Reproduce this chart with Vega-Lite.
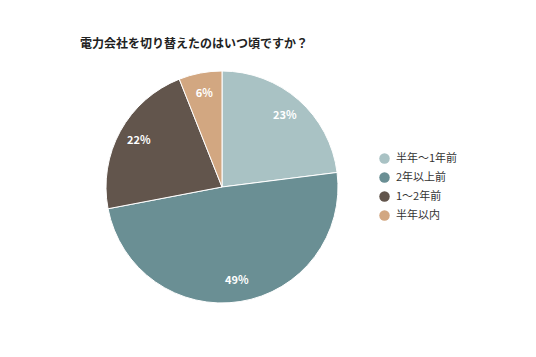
{
  "$schema": "https://vega.github.io/schema/vega-lite/v6.json",
  "autosize": {"type": "none"},
  "width": 232,
  "height": 232,
  "padding": {"left": 106, "top": 71, "right": 198, "bottom": 54},
  "background": "white",
  "title": {
    "text": "電力会社を切り替えたのはいつ頃ですか？",
    "anchor": "start",
    "frame": "group",
    "dx": -26,
    "offset": 18,
    "font": "Noto Sans CJK JP",
    "fontSize": 12,
    "fontWeight": "bold",
    "color": "#222222"
  },
  "config": {"view": {"stroke": null}},
  "data": {
    "values": [
      {"category": "半年〜1年前", "value": 23, "rank": 1},
      {"category": "2年以上前", "value": 49, "rank": 2},
      {"category": "1〜2年前", "value": 22, "rank": 3},
      {"category": "半年以内", "value": 6, "rank": 4}
    ]
  },
  "transform": [{"calculate": "datum.value + '%'", "as": "label"}],
  "encoding": {
    "theta": {"field": "value", "type": "quantitative", "stack": true},
    "order": {"field": "rank", "type": "quantitative"},
    "color": {
      "field": "category",
      "type": "nominal",
      "scale": {
        "domain": ["半年〜1年前", "2年以上前", "1〜2年前", "半年以内"],
        "range": ["#a9c2c4", "#6a8f94", "#62554c", "#d2a781"]
      },
      "legend": {
        "title": null,
        "orient": "none",
        "legendX": 273,
        "legendY": 82,
        "symbolType": "circle",
        "symbolSize": 110,
        "symbolStrokeWidth": 0,
        "labelFont": "Noto Sans CJK JP",
        "labelFontSize": 11,
        "labelColor": "#333333",
        "rowPadding": 7,
        "labelOffset": 6
      }
    }
  },
  "layer": [
    {"mark": {"type": "arc", "outerRadius": 116, "stroke": "white", "strokeWidth": 1}},
    {
      "mark": {"type": "text", "radius": 95, "font": "Noto Sans CJK JP", "fontSize": 11, "fontWeight": "bold", "fill": "white"},
      "encoding": {"text": {"field": "label", "type": "nominal"}, "color": {"value": "white"}}
    }
  ]
}
